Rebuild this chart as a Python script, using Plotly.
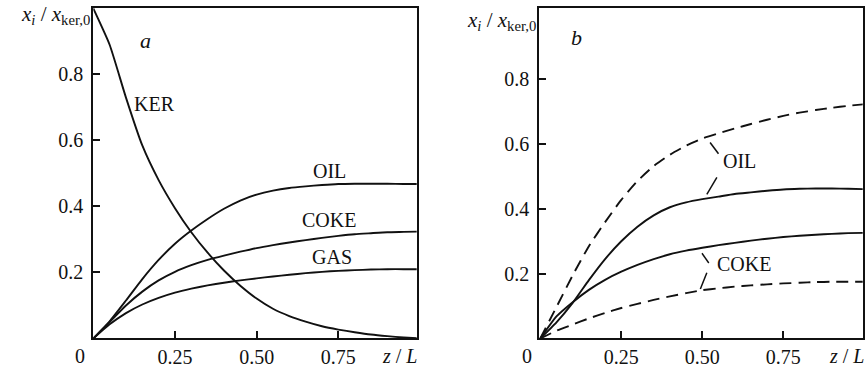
import plotly.graph_objects as go
from plotly.subplots import make_subplots

# ---------------- data ----------------
Z = [0.0, 0.05, 0.10, 0.15, 0.20, 0.25, 0.30, 0.35, 0.40, 0.45, 0.50,
     0.55, 0.60, 0.65, 0.70, 0.75, 0.80, 0.85, 0.90, 0.95, 1.00]

# panel a
KER_A = [1.0, 0.89, 0.73, 0.585, 0.48, 0.395, 0.322, 0.26, 0.206, 0.16, 0.121,
         0.09, 0.068, 0.051, 0.037, 0.027, 0.019, 0.012, 0.007, 0.003, 0.0]
OIL_A = [0.0, 0.052, 0.115, 0.18, 0.238, 0.287, 0.327, 0.362, 0.393, 0.418, 0.436,
         0.448, 0.456, 0.461, 0.465, 0.468, 0.469, 0.469, 0.469, 0.468, 0.468]
COKE_A = [0.0, 0.05, 0.10, 0.142, 0.176, 0.202, 0.222, 0.238, 0.251, 0.263, 0.274,
          0.283, 0.291, 0.298, 0.305, 0.311, 0.316, 0.319, 0.322, 0.323, 0.324]
GAS_A = [0.0, 0.043, 0.077, 0.103, 0.123, 0.139, 0.151, 0.161, 0.169, 0.176, 0.182,
         0.188, 0.193, 0.198, 0.202, 0.205, 0.207, 0.209, 0.21, 0.21, 0.21]

# panel b
OIL_B_SOLID = [0.0, 0.05, 0.11, 0.18, 0.245, 0.30, 0.345, 0.38, 0.405, 0.42, 0.43,
               0.438, 0.446, 0.451, 0.456, 0.46, 0.462, 0.463, 0.463, 0.462, 0.461]
COKE_B_SOLID = [0.0, 0.068, 0.112, 0.15, 0.181, 0.206, 0.227, 0.245, 0.26, 0.271, 0.28,
                0.288, 0.295, 0.302, 0.308, 0.313, 0.317, 0.32, 0.323, 0.325, 0.326]
OIL_B_DASH = [0.0, 0.097, 0.195, 0.285, 0.359, 0.428, 0.486, 0.532, 0.567, 0.595, 0.617,
              0.633, 0.648, 0.662, 0.675, 0.687, 0.697, 0.705, 0.712, 0.718, 0.723]
COKE_B_DASH = [0.0, 0.024, 0.043, 0.062, 0.079, 0.094, 0.107, 0.119, 0.13, 0.14, 0.149,
               0.155, 0.16, 0.164, 0.167, 0.17, 0.172, 0.174, 0.175, 0.175, 0.175]

X_TICKS = [0.25, 0.50, 0.75]
X_TICKTEXT = ["0.25", "0.50", "0.75"]
Y_TICKS = [0.2, 0.4, 0.6, 0.8]
Y_TICKTEXT = ["0.2", "0.4", "0.6", "0.8"]

FONT = "Liberation Serif"
BLACK = "#111111"

fig = make_subplots(rows=1, cols=2)

def add_line(y, col, dash="solid"):
    fig.add_trace(go.Scatter(x=Z, y=y, mode="lines",
                             line=dict(color=BLACK, width=1.9, dash=dash, shape="spline", smoothing=0.5),
                             hoverinfo="skip"), row=1, col=col)

for series in (KER_A, OIL_A, COKE_A, GAS_A):
    add_line(series, 1)
add_line(OIL_B_SOLID, 2)
add_line(COKE_B_SOLID, 2)
add_line(OIL_B_DASH, 2, "12px,7px")
add_line(COKE_B_DASH, 2, "12px,7px")

axis_common = dict(showgrid=False, zeroline=False, showline=True, mirror=True,
                   linecolor=BLACK, linewidth=2, ticks="inside", ticklen=7,
                   tickwidth=1.5, tickcolor=BLACK,
                   tickfont=dict(family=FONT, size=20, color=BLACK))

fig.update_xaxes(**axis_common, tickvals=X_TICKS, ticktext=X_TICKTEXT)
fig.update_yaxes(**axis_common, tickvals=Y_TICKS, ticktext=Y_TICKTEXT, ticklabelstandoff=4)

fig.update_layout(
    width=865, height=368,
    margin=dict(l=0, r=0, t=0, b=0),
    paper_bgcolor="white", plot_bgcolor="white",
    showlegend=False,
    font=dict(family=FONT, color=BLACK),
    xaxis=dict(domain=[0.10786, 0.48173], range=[0, 0.99]),
    xaxis2=dict(domain=[0.62347, 0.99734], range=[-0.003, 0.995]),
    yaxis=dict(domain=[0.0802, 0.9783], range=[0, 1.0015]),
    yaxis2=dict(domain=[0.0802, 0.9783], range=[0, 1.02]),
)

def txt(x, y, text, xref, yref, size=20, **kw):
    fig.add_annotation(x=x, y=y, text=text, xref=xref, yref=yref, showarrow=False,
                       font=dict(family=FONT, size=size, color=BLACK), **kw)

# panel a labels
txt(0.186, 0.711, "KER", "x", "y")
txt(0.724, 0.508, "OIL", "x", "y")
txt(0.721, 0.359, "COKE", "x", "y")
txt(0.731, 0.247, "GAS", "x", "y")
txt(0.161, 0.902, "<i>a</i>", "x", "y", size=22)

# panel b labels
txt(0.113, 0.93, "<i>b</i>", "x2", "y2", size=22)
txt(0.616, 0.549, "OIL", "x2", "y2")
txt(0.629, 0.229, "COKE", "x2", "y2")

# leader lines (panel b)
LEADERS = [((0.524, 0.605), (0.55, 0.57)),
           ((0.514, 0.445), (0.545, 0.497)),
           ((0.499, 0.263), (0.52, 0.233)),
           ((0.494, 0.153), (0.514, 0.203))]
for (x0, y0), (x1, y1) in LEADERS:
    fig.add_shape(type="line", x0=x0, y0=y0, x1=x1, y1=y1, xref="x2", yref="y2",
                  line=dict(color=BLACK, width=1.5))

# axis titles and origin labels
YTITLE = ("<i>x<sub>i</sub></i> / <i>x</i>"
          "<sub>ker,0</sub>")
XTITLE = "<i>z</i> / <i>L</i>"
for xr, yr, xt in (("x", "y", 0.936), ("x2", "y2", 0.944)):
    txt(0, 1.0, YTITLE, xr + " domain", yr, size=21, xanchor="right", yanchor="middle",
        xshift=-1, yshift=-7)
    txt(0, 0, "0", xr, yr, xanchor="right", yanchor="top", xshift=-6, yshift=-5)
    txt(xt, 0, XTITLE, xr, yr, xanchor="center", yanchor="top", yshift=-5)

fig.write_html("out.html")
